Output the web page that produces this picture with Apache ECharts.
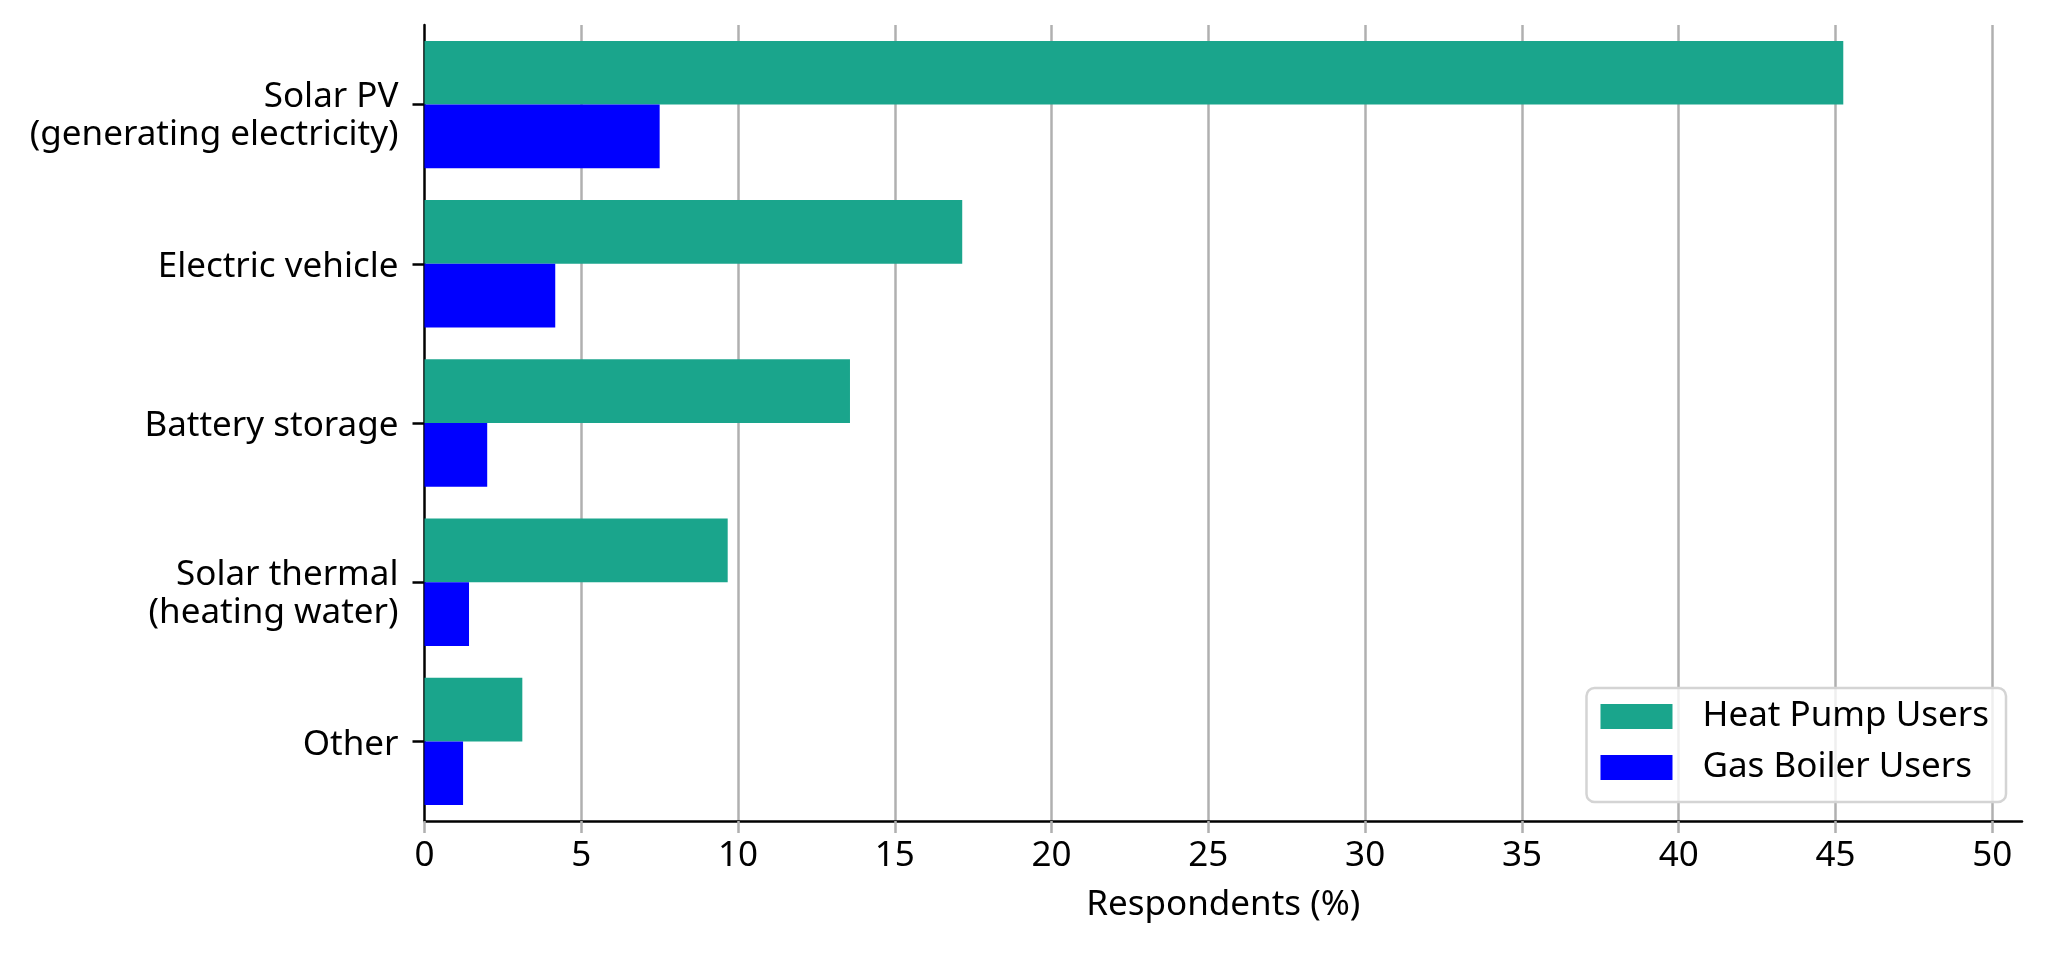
<!DOCTYPE html>
<html>
<head>
<meta charset="utf-8">
<script src="https://cdn.jsdelivr.net/npm/echarts@6/dist/echarts.min.js"></script>
<style>
html,body{margin:0;padding:0;background:#fff;}
#chart{width:2048px;height:953px;}
</style>
</head>
<body>
<div id="chart"></div>
<script>
const categories = [
  'Solar PV\n(generating electricity)',
  'Electric vehicle',
  'Battery storage',
  'Solar thermal\n(heating water)',
  'Other'
];
const heatPumpUsers = [45.25, 17.15, 13.57, 9.67, 3.12];
const gasBoilerUsers = [7.5, 4.17, 2.0, 1.42, 1.23];
const xTicks = [0, 5, 10, 15, 20, 25, 30, 35, 40, 45, 50];
const xAxisTitle = 'Respondents (%)';
const seriesNames = ['Heat Pump Users', 'Gas Boiler Users'];

const FONT = 'Noto Sans';
const chart = echarts.init(document.getElementById('chart'), null, {renderer: 'canvas'});
chart.setOption({
  animation: false,
  backgroundColor: '#ffffff',
  textStyle: {fontFamily: FONT},
  grid: {left: 424.5, right: 26, top: 25, bottom: 132, containLabel: false},
  legend: {
    orient: 'vertical',
    right: 42,
    top: 688,
    padding: [11, 17, 17, 14],
    icon: 'rect',
    itemWidth: 72,
    itemHeight: 25,
    itemGap: 16,
    backgroundColor: 'rgba(255,255,255,0.8)',
    borderColor: '#d4d4d4',
    borderWidth: 2.5,
    borderRadius: 8,
    textStyle: {fontFamily: FONT, fontSize: 35, color: '#000', padding: [0, 0, 0, 25]},
    data: seriesNames
  },
  xAxis: {
    type: 'value',
    min: 0,
    max: 50.95,
    interval: 5,
    name: xAxisTitle,
    nameLocation: 'middle',
    nameGap: 67,
    nameTextStyle: {fontFamily: FONT, fontSize: 35, color: '#000'},
    axisLine: {show: true, lineStyle: {color: '#000', width: 2.5}},
    axisTick: {show: true, length: 12, lineStyle: {color: '#b0b0b0', width: 2.5}},
    axisLabel: {
      fontFamily: FONT, fontSize: 35, color: '#000', margin: 18,
      showMaxLabel: false,
      formatter: v => (xTicks.indexOf(v) >= 0 ? String(v) : '')
    },
    splitLine: {show: true, showMaxLine: false, showMinLine: false, lineStyle: {color: '#b0b0b0', width: 2.5}}
  },
  yAxis: {
    type: 'category',
    inverse: true,
    data: categories,
    axisLine: {show: true, lineStyle: {color: '#000', width: 2.5}},
    axisTick: {show: true, alignWithLabel: true, length: 12, lineStyle: {color: '#000', width: 2.5}},
    axisLabel: {
      fontFamily: FONT, fontSize: 35, color: '#000', margin: 26, lineHeight: 38, align: 'right',
      padding: [7, 0, 0, 0],
      formatter: v => {
        const lines = v.split('\n');
        if (lines.length > 1) {
          return '{s| }\n' + lines.map(l => '{t|' + l + '}').join('\n');
        }
        return '{t|' + v + '}';
      },
      rich: {
        s: {fontSize: 1, lineHeight: 16},
        t: {fontFamily: FONT, fontSize: 35, color: '#000', lineHeight: 38, align: 'right'}
      }
    },
    splitLine: {show: false}
  },
  series: [
    {
      name: seriesNames[0],
      type: 'bar',
      data: heatPumpUsers,
      barGap: '0%',
      barCategoryGap: '20%',
      itemStyle: {color: '#1aa58c'}
    },
    {
      name: seriesNames[1],
      type: 'bar',
      data: gasBoilerUsers,
      barGap: '0%',
      barCategoryGap: '20%',
      itemStyle: {color: '#0000ff'}
    }
  ]
});
</script>
</body>
</html>
